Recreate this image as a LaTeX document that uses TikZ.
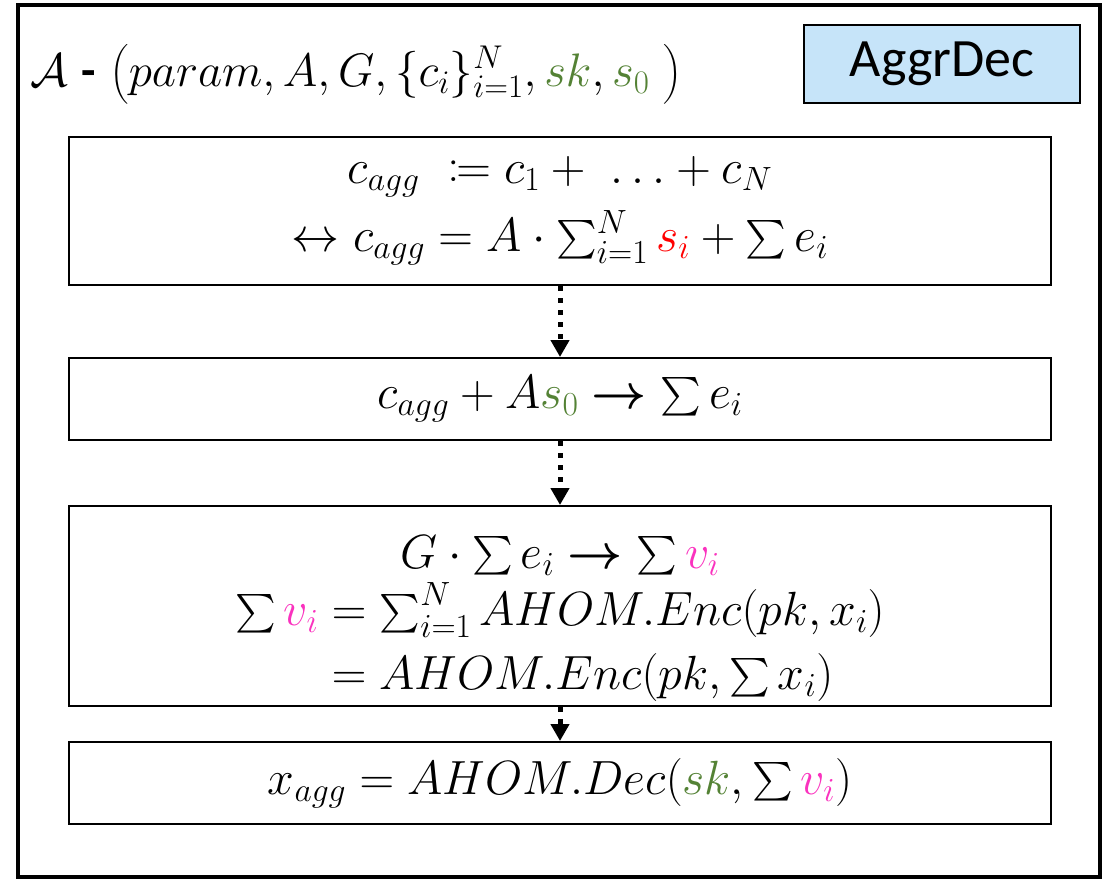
\RequirePackage{fix-cm}
\documentclass[tikz,border=0pt]{standalone}
\usepackage{mathtools}
\usepackage{graphicx}
\usepackage{fontspec}
\setsansfont{Carlito}
\usetikzlibrary{arrows.meta}
\definecolor{skgreen}{RGB}{84,130,53}
\definecolor{vpink}{RGB}{250,50,190}
\definecolor{algoblue}{RGB}{198,228,249}
\newcommand{\bsum}{\mathop{\raisebox{-0.14em}{\scalebox{1.55}{$\textstyle\sum$}}}\nolimits}
\tikzset{
  stepbox/.style={draw,line width=2pt,minimum width=982pt,align=center,
    font=\fontsize{48}{68}\selectfont},
  flowarrow/.style={line width=5pt,dash pattern=on 5pt off 7pt,
    -{Triangle[width=18pt,length=17pt]}}
}
\setlength{\jot}{6pt}
\begin{document}
\begin{tikzpicture}[x=1pt,y=-1pt]
  \useasboundingbox (0,0) rectangle (1107,879);
  \draw[line width=4pt] (18,5) rectangle (1100,877);
  \node[anchor=base west,font=\fontsize{47}{56}\selectfont,inner sep=0pt] (title) at (30,86)
    {$\mathcal{A}$ {\sffamily\bfseries -} $\bigl(param, A, G, \{c_i\}_{i=1}^N, \textcolor{skgreen}{sk}, \textcolor{skgreen}{s_0}\ \bigr)$};
  \node[draw,line width=2pt,fill=algoblue,minimum width=276pt,minimum height=78pt,
    font=\sffamily\fontsize{54}{60}\selectfont] (algo) at (942,64) {AggrDec};
  % steps of the decryption
  \node[stepbox,minimum height=148pt] (sum) at (560,211)
    {$c_{agg} \ \coloneqq c_1 +\ \ldots + c_N$\\
     $\leftrightarrow c_{agg} = A\cdot \bsum_{i=1}^N \textcolor{red}{s_i} + \bsum e_i$};
  \node[stepbox,minimum height=82pt] (noise) at (560,399)
    {$c_{agg} + A\textcolor{skgreen}{s_0} \boldsymbol{\rightarrow} \bsum e_i$};
  \node[stepbox,minimum height=200pt] (enc) at (560,606) {};
  \node[align=center,font=\fontsize{48}{58}\selectfont] (enctext) at ([yshift=-15pt]enc.center)
    {$G\cdot \bsum e_i \boldsymbol{\rightarrow} \bsum \textcolor{vpink}{v_i}$\\[6pt]
     $\begin{aligned}
       \bsum \textcolor{vpink}{v_i} &= \bsum_{i=1}^N AHOM.Enc(pk, x_i)\\
       &= AHOM.Enc(pk, \bsum x_i)
     \end{aligned}$};
  \node[stepbox,minimum height=82pt] (dec) at (560,783)
    {$x_{agg} = AHOM.Dec(\textcolor{skgreen}{sk}, \bsum \textcolor{vpink}{v_i})$};
  \draw[flowarrow] (sum) -- (noise);
  \draw[flowarrow] (noise) -- (enc);
  \draw[flowarrow] (enc) -- (dec);
\end{tikzpicture}
\end{document}
